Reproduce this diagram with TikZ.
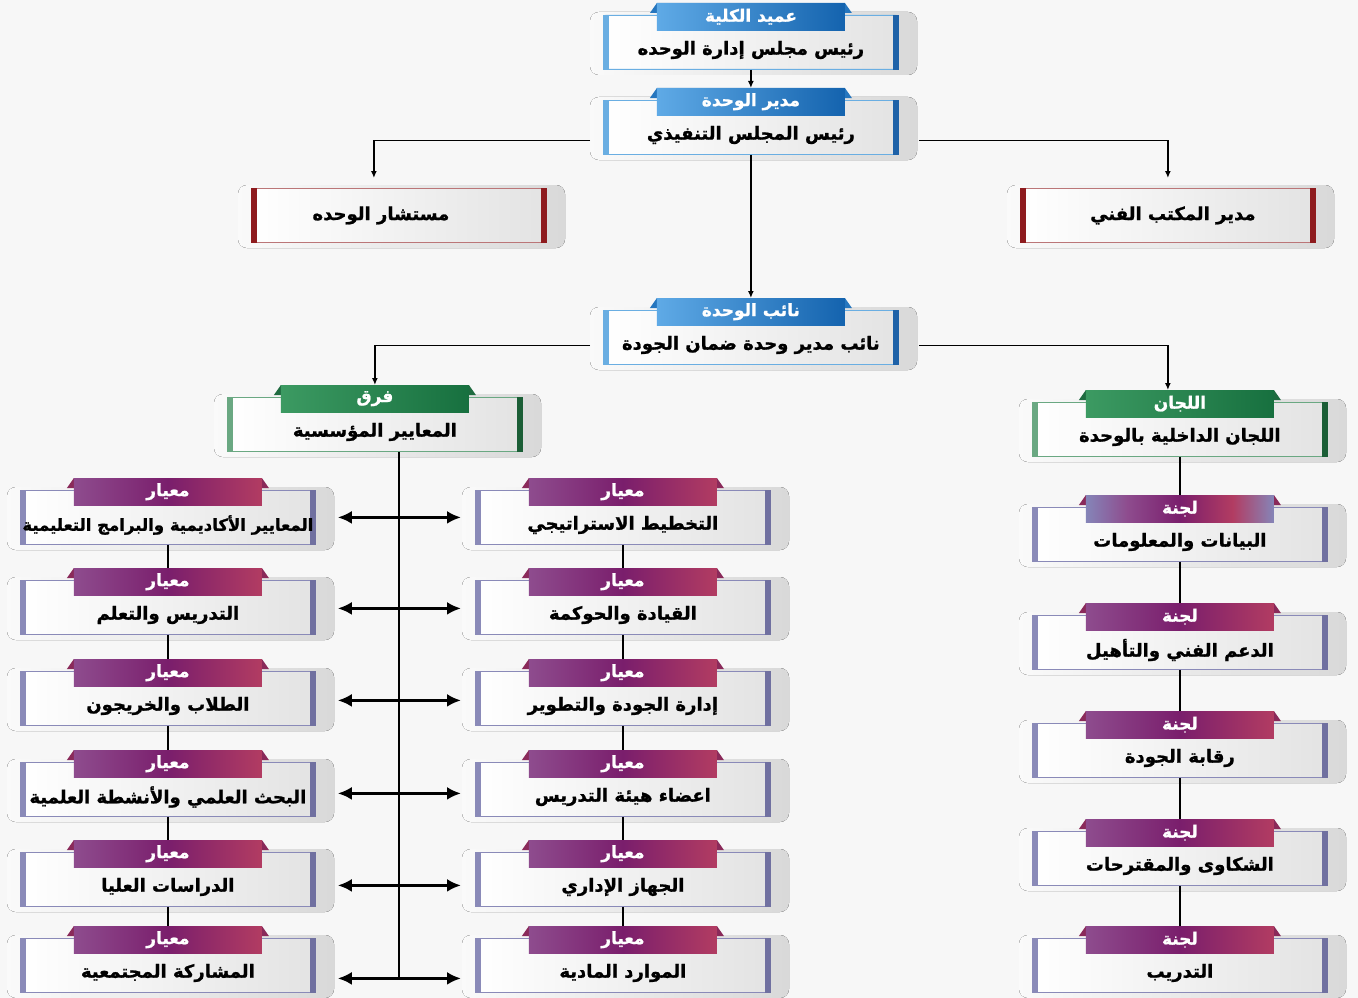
\documentclass[tikz,border=0pt]{standalone}
\usepackage{fontspec}
\setmainfont{DejaVu Sans}
\newfontfamily\arabicfont[Script=Arabic, BoldFeatures={FakeBold=1.2}]{DejaVu Sans}
\TeXXeTstate=1
\usetikzlibrary{arrows,arrows.meta,shapes,calc,positioning}

\definecolor{pagebg}{HTML}{F7F7F7}
\definecolor{blueA}{HTML}{5FAAE6}
\definecolor{blueB}{HTML}{1463AE}
\definecolor{blueEar}{HTML}{2676BE}
\definecolor{blueL}{HTML}{6AAEE2}
\definecolor{blueR}{HTML}{1E62A8}
\definecolor{greenA}{HTML}{3C9A62}
\definecolor{greenB}{HTML}{17703F}
\definecolor{greenEar}{HTML}{1F6B40}
\definecolor{greenL}{HTML}{6AA882}
\definecolor{greenR}{HTML}{1B5E36}
\definecolor{purA}{HTML}{8E4C8E}
\definecolor{purB}{HTML}{7A1E6C}
\definecolor{purC}{HTML}{B23C62}
\definecolor{purEar}{HTML}{8A2A5A}
\definecolor{lav}{HTML}{8585B8}
\definecolor{purL}{HTML}{8A8AB8}
\definecolor{purR}{HTML}{7070A0}
\definecolor{redbar}{HTML}{8E1B1E}

\pgfdeclarehorizontalshading{purtab}{100bp}{color(0bp)=(purA); color(25bp)=(purA);
  color(50bp)=(purB); color(75bp)=(purC); color(100bp)=(purC)}
\pgfdeclarehorizontalshading{lavtab}{100bp}{color(0bp)=(lav); color(25bp)=(lav);
  color(36bp)=(purA); color(50bp)=(purB); color(64bp)=(purC); color(75bp)=(lav); color(100bp)=(lav)}

% box with a tab: name, left, top, colours, tab text, text
\newcommand{\unitbox}[6]{%
  \fill[box shadow] (#2-13,#3-3) rectangle (#2+314,#3+60);
  \node(#1)[org box, #4 box, anchor=north west] at (#2,#3) {};
  \fill[#4 left] (#1.north west) rectangle ([xshift=6pt]#1.south west);
  \fill[#4 right] ([xshift=-6pt]#1.north east) rectangle (#1.south east);
  \node(#1-text)[main text] at ($(#1.north)+(0,35)$) {#6};
  \fill[#4 ear] ($(#1.north)+(-101,-2)$) -- ($(#1.north)+(-94,-12)$)
    -- ($(#1.north)+(94,-12)$) -- ($(#1.north)+(101,-2)$) -- cycle;
  \node(#1-tab)[#4 tab, anchor=north] at ($(#1.north)+(0,-12)$) {#5};
}
% box without a tab: name, left, top, text shift, text
\newcommand{\plainbox}[5]{%
  \fill[box shadow] (#2-13,#3-3) rectangle (#2+314,#3+60);
  \node(#1)[org box, red box, anchor=north west] at (#2,#3) {};
  \fill[red left] (#1.north west) rectangle ([xshift=6pt]#1.south west);
  \fill[red right] ([xshift=-6pt]#1.north east) rectangle (#1.south east);
  \node(#1-text)[main text] at ($(#1.center)+(#4,0)$) {#5};
}

\begin{document}
\begin{tikzpicture}[x=1pt,y=-1pt]
\tikzset{
	org box/.style = {rectangle, minimum width = 295pt, minimum height = 54pt, inner sep = 0,
		left color = white, right color = gray!22, line width = 0.8pt, rounded corners = 2pt},
	box shadow/.style = {left color = white!96!gray, right color = gray!30, rounded corners = 9pt},
	main text/.style = {font = \arabicfont\bfseries\fontsize{18}{21}\selectfont, text = black, inner sep = 0},
	tab/.style = {minimum width = 188pt, minimum height = 27pt, inner sep = 0, text = white,
		font = \arabicfont\bfseries\fontsize{17}{20}\selectfont},
	blue tab/.style = {tab, left color = blueA, right color = blueB},
	blue ear/.style = {fill = blueEar},
	blue box/.style = {draw = blueL},
	blue left/.style = {fill = blueL},
	blue right/.style = {fill = blueR},
	green tab/.style = {tab, left color = greenA, right color = greenB},
	green ear/.style = {fill = greenEar},
	green box/.style = {draw = greenL},
	green left/.style = {fill = greenL},
	green right/.style = {fill = greenR},
	purple tab/.style = {tab, shading = purtab},
	purple ear/.style = {fill = purEar},
	purple box/.style = {draw = purL},
	purple left/.style = {fill = purL},
	purple right/.style = {fill = purR},
	lavender tab/.style = {tab, shading = lavtab},
	lavender ear/.style = {fill = purEar},
	lavender box/.style = {draw = purL},
	lavender left/.style = {fill = purL},
	lavender right/.style = {fill = purR},
	red box/.style = {draw = redbar!60},
	red left/.style = {fill = redbar},
	red right/.style = {fill = redbar},
	link/.style = {line width = 1.4pt, -{Latex[length=7pt, width=6pt]}},
	line/.style = {line width = 1.4pt},
	both/.style = {line width = 2.8pt, {Latex[length=14pt, width=13pt]}-{Latex[length=14pt, width=13pt]},
		shorten <= 22pt, shorten >= 14pt},
}

\fill[pagebg] (0,0) rectangle (1358,998);
\useasboundingbox (0,0) rectangle (1358,998);

% top of the unit
\unitbox{dean}{603}{15}{blue}{\beginR عميد الكلية\endR}{\beginR رئيس مجلس إدارة الوحده\endR}
\unitbox{director}{603}{100}{blue}{\beginR مدير الوحدة\endR}{\beginR رئيس المجلس التنفيذي\endR}
\plainbox{advisor}{251}{188}{-18}{\beginR مستشار الوحده\endR}
\plainbox{office}{1020}{188}{5}{\beginR مدير المكتب الفني\endR}
\unitbox{deputy}{603}{310}{blue}{\beginR نائب الوحدة\endR}{\beginR نائب مدير وحدة ضمان الجودة\endR}
\unitbox{teams}{227}{397}{green}{\beginR فرق\endR}{\beginR المعايير المؤسسية\endR}
\unitbox{committees}{1032}{402}{green}{\beginR اللجان\endR}{\beginR اللجان الداخلية بالوحدة\endR}

% standards
\foreach \i/\ty/\txt in {1/490/{\fontsize{16.5}{20}\selectfont\beginR المعايير الأكاديمية والبرامج التعليمية\endR},
	2/580/\beginR التدريس والتعلم\endR, 3/671/\beginR الطلاب والخريجون\endR,
	4/762/\beginR البحث العلمي والأنشطة العلمية\endR, 5/852/\beginR الدراسات العليا\endR,
	6/938/\beginR المشاركة المجتمعية\endR}
	{\unitbox{l\i}{20}{\ty}{purple}{معيار}{\txt}}
\foreach \i/\ty/\txt in {1/490/\beginR التخطيط الاستراتيجي\endR, 2/580/\beginR القيادة والحوكمة\endR,
	3/671/\beginR إدارة الجودة والتطوير\endR, 4/762/\beginR اعضاء هيئة التدريس\endR,
	5/852/\beginR الجهاز الإداري\endR, 6/938/\beginR الموارد المادية\endR}
	{\unitbox{m\i}{475}{\ty}{purple}{معيار}{\txt}}

% committees
\unitbox{r1}{1032}{507}{lavender}{لجنة}{\beginR البيانات والمعلومات\endR}
\foreach \i/\ty/\txt in {2/615/\beginR الدعم الفني والتأهيل\endR, 3/723/\beginR رقابة الجودة\endR,
	4/831/\beginR الشكاوى والمقترحات\endR, 5/938/التدريب}
	{\unitbox{r\i}{1032}{\ty}{purple}{لجنة}{\txt}}

% connectors
\draw[link] (dean.south) -- (director-tab.north);
\draw[link] ([xshift=-13pt, yshift=-13pt]director.west) -| ([xshift=-25pt, yshift=10pt]advisor.north);
\draw[link] ([xshift=20pt, yshift=-13pt]director.east) -| ([yshift=10pt]office.north);
\draw[link] (director.south) -- (deputy-tab.north);
\draw[link] ([xshift=-13pt, yshift=-8pt]deputy.west) -| (teams-tab.north);
\draw[link] ([xshift=20pt, yshift=-8pt]deputy.east) -| ([xshift=-12pt]committees-tab.north);

\coordinate (trunk) at (399,977);
\draw[line] (teams.south -| trunk) -- (trunk);
\foreach \i/\dy in {1/0, 2/-1, 3/-2, 4/-4, 5/-6, 6/-13}
	\draw[both] ([yshift=\dy pt]l\i.east) -- ([yshift=\dy pt]m\i.west);

\foreach \i/\j in {1/2, 2/3, 3/4, 4/5, 5/6}
{
	\draw[line] (l\i.south) -- (l\j-tab.north);
	\draw[line] (m\i.south) -- (m\j-tab.north);
}
\draw[line] (committees.south) -- (r1-tab.north);
\foreach \i/\j in {1/2, 2/3, 3/4, 4/5}
	\draw[line] (r\i.south) -- (r\j-tab.north);

\end{tikzpicture}
\end{document}
